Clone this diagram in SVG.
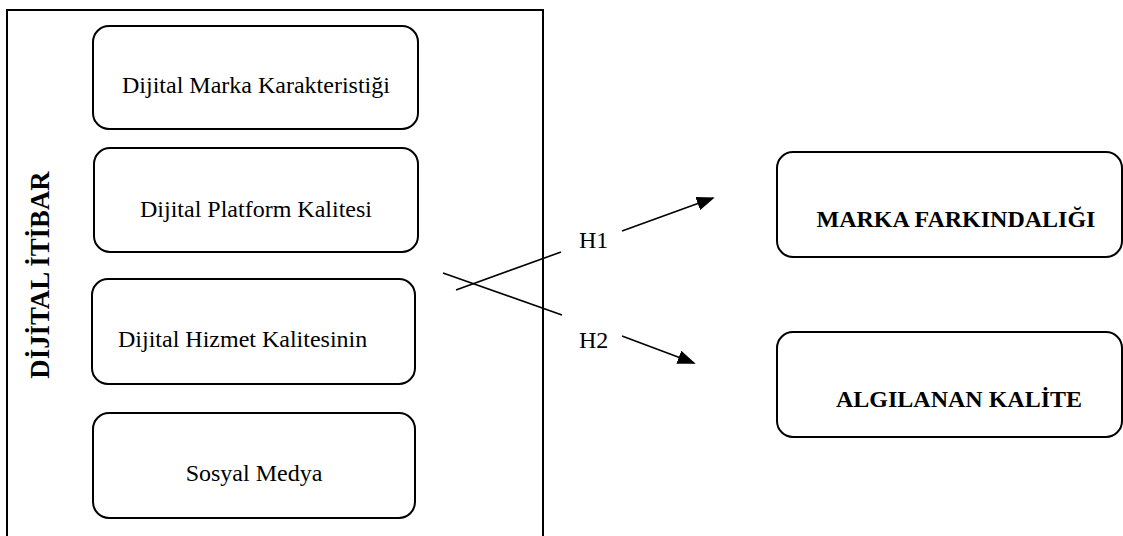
<svg xmlns="http://www.w3.org/2000/svg" width="1123" height="536" viewBox="0 0 1123 536">
<defs>
<style>
.box{fill:#fff;stroke:#000;stroke-width:2}
.frame{fill:none;stroke:#000;stroke-width:2}
.t{font-family:"Liberation Serif","Times New Roman",serif;font-size:24px;fill:#000}
.b{font-weight:bold}
.ln{stroke:#000;stroke-width:1.6;fill:none}
</style>
<marker id="ah2" viewBox="0 0 10 10" refX="9" refY="5" markerWidth="18" markerHeight="14" markerUnits="userSpaceOnUse" orient="auto" preserveAspectRatio="none">
<path d="M0,0 L10,5 L0,10 z" fill="#000"/>
</marker>
</defs>
<rect width="1123" height="536" fill="#fff"/>
<g id="frame">
<rect class="frame" x="7" y="10" width="536" height="540"/>
<text class="t b" transform="translate(48.5,275) rotate(-90)" text-anchor="middle" style="font-size:26.8px">DİJİTAL İTİBAR</text>
</g>
<g id="node-marka-karakteristigi">
<rect class="box" x="93" y="26" width="325" height="103" rx="16"/>
<text class="t" x="256" y="93" text-anchor="middle">Dijital Marka Karakteristiği</text>
</g>
<g id="node-platform-kalitesi">
<rect class="box" x="94" y="148" width="324" height="104" rx="16"/>
<text class="t" x="256" y="217" text-anchor="middle">Dijital Platform Kalitesi</text>
</g>
<g id="node-hizmet-kalitesi">
<rect class="box" x="92" y="279" width="323" height="105" rx="16"/>
<text class="t" x="118" y="347">Dijital Hizmet Kalitesinin</text>
</g>
<g id="node-sosyal-medya">
<rect class="box" x="93" y="413" width="322" height="105" rx="16"/>
<text class="t" x="254" y="481" text-anchor="middle">Sosyal Medya</text>
</g>
<g id="node-marka-farkindaligi">
<rect class="box" x="777" y="152" width="345" height="105" rx="16"/>
<text class="t b" x="956" y="227" text-anchor="middle">MARKA FARKINDALIĞI</text>
</g>
<g id="node-algilanan-kalite">
<rect class="box" x="777" y="332" width="345" height="105" rx="16"/>
<text class="t b" x="959" y="407" text-anchor="middle">ALGILANAN KALİTE</text>
</g>
<g id="connectors">
<line class="ln" x1="456" y1="290" x2="561" y2="252"/>
<line class="ln" x1="443" y1="273" x2="562" y2="315"/>
<line class="ln" x1="622" y1="231" x2="713" y2="198" marker-end="url(#ah2)"/>
<line class="ln" x1="622" y1="336" x2="694" y2="363" marker-end="url(#ah2)"/>
<text class="t" x="579" y="248">H1</text>
<text class="t" x="579" y="348">H2</text>
</g>
</svg>
